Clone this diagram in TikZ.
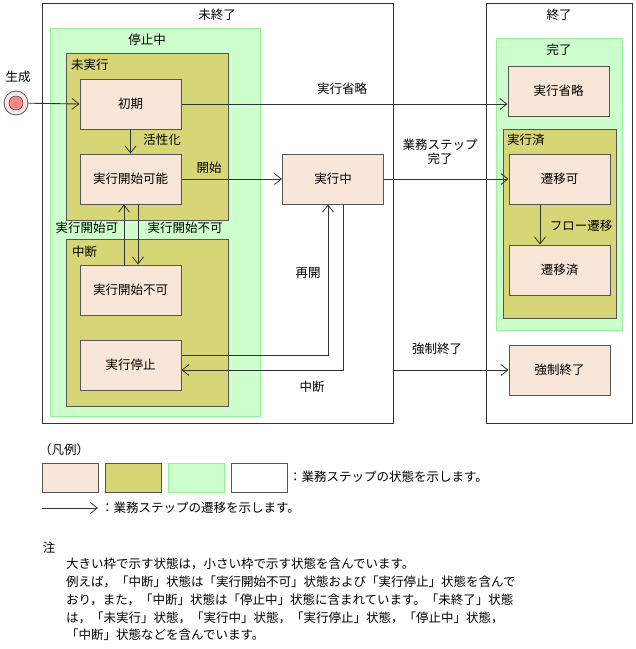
\documentclass[tikz,border=0pt]{standalone}
\usepackage{fontspec}
\setmainfont{Noto Sans CJK JP}
\usetikzlibrary{arrows.meta}
\definecolor{beige}{HTML}{F8E6D8}
\definecolor{olv}{HTML}{D6D676}
\definecolor{grn}{HTML}{CCFFCC}
\definecolor{grnb}{HTML}{99EE99}
\definecolor{bd}{HTML}{555555}
\tikzset{
  st/.style={draw=bd,fill=beige,line width=1pt,minimum width=101pt,minimum height=50pt,inner sep=0pt,font=\fontsize{12.5}{14}\selectfont},
  ob/.style={draw=bd,fill=olv,line width=1pt,anchor=north west,inner sep=0pt},
  gb/.style={draw=grnb,fill=grn,line width=1pt,anchor=north west,inner sep=0pt},
  wb/.style={draw=black!80,fill=white,line width=0.8pt,anchor=north west,inner sep=0pt},
  lbl/.style={inner sep=0pt,font=\fontsize{12.5}{14}\selectfont},
  tr/.style={draw=black!80,line width=0.9pt,-{Straight Barb[length=7pt,width=11pt,line width=0.8pt]}}
}
\begin{document}
\begin{tikzpicture}[x=1pt,y=-1pt]
\useasboundingbox (0,0) rectangle (636,649);
% containers
\node[wb,minimum width=351pt,minimum height=420pt] (mi) at (42,3) {};
\node[wb,minimum width=146pt,minimum height=420pt] (shu) at (486,3) {};
\node[lbl] (mit) at (217,15) {未終了};
\node[lbl] (shut) at (559,15) {終了};
\node[gb,minimum width=210pt,minimum height=388pt] (tei) at (50,28) {};
\node[lbl] (teit) at (147,40) {停止中};
\node[ob,minimum width=162pt,minimum height=167pt] (mij) at (66,53) {};
\node[lbl,anchor=west] (mijt) at (71,65) {未実行};
\node[ob,minimum width=162pt,minimum height=167pt] (chu) at (66,239) {};
\node[lbl,anchor=west] (chut) at (72,252) {中断};
\node[gb,minimum width=126pt,minimum height=292pt] (kan) at (496,38) {};
\node[lbl] (kant) at (559,50) {完了};
\node[ob,minimum width=113pt,minimum height=189pt] (jz) at (503,129) {};
\node[lbl,anchor=west] (jzt) at (507,140) {実行済};
% states
\node[st] (shoki) at (130.5,104) {初期};
\node[st] (kano) at (130.5,179) {実行開始可能};
\node[st] (fuka) at (130.5,290) {実行開始不可};
\node[st] (teishi) at (130.5,365) {実行停止};
\node[st] (jikko) at (333,179) {実行中};
\node[st] (shoryaku) at (558.5,91) {実行省略};
\node[st] (senika) at (559.5,179) {遷移可};
\node[st] (senizumi) at (559.5,270) {遷移済};
\node[st] (kyosei) at (559.5,370) {強制終了};
% initial
\node[circle,draw=bd,fill=pink!40,minimum size=24pt,inner sep=0pt,line width=0.8pt] (init) at (16,103) {};
\node[circle,draw=bd,fill=red!30!pink,minimum size=14pt,inner sep=0pt,line width=0.6pt] (initc) at (16,103) {};
\node[lbl] (seisei) at (18,77) {生成};
% transitions
\draw[tr] (init) -- (shoki.west);
\draw[tr] (shoki.east) -- (shoki.east -| shoryaku.west) coordinate (sx);
\node[lbl] (l1) at (342,89) {実行省略};
\draw[tr] (shoki.south) -- (kano.north);
\node[lbl] (l2) at (162,140) {活性化};
\draw[tr] (kano.east) -- (jikko.west);
\node[lbl] (l3) at (209,168) {開始};
\draw[tr] (fuka.north -| 124,0) -- (kano.south -| 124,0);
\draw[tr] (kano.south -| 138,0) -- (fuka.north -| 138,0);
\node[lbl] (l4) at (87,228) {実行開始可};
\node[lbl] (l5) at (185,228) {実行開始不可};
\draw[tr] (teishi.east |- 0,355) -| (jikko.south -| 328,0);
\node[lbl] (l6) at (308,273) {再開};
\draw[tr] (jikko.south -| 343,0) |- (teishi.east |- 0,370);
\node[lbl] (l7) at (312,387) {中断};
\draw[tr] (jikko.east) -- (senika.west);
\node[lbl,align=center] (l8) at (440,152) {業務ステップ\\完了};
\draw[tr] (senika.south -| 540,0) -- (senizumi.north -| 540,0);
\node[lbl] (l9) at (581,226) {フロー遷移};
\coordinate (mr) at (393,370);
\draw[tr] (mr) -- (kyosei.west);
\node[lbl] (l10) at (437,349) {強制終了};
% legend
\node[lbl] (hanrei) at (64,450) {（凡例）};
\node[draw=bd,fill=beige,line width=0.8pt,anchor=north west,minimum width=56pt,minimum height=29pt] (k1) at (42,463) {};
\node[draw=bd,fill=olv,line width=0.8pt,anchor=north west,minimum width=56pt,minimum height=29pt] (k2) at (105,463) {};
\node[draw=grnb,fill=grn,line width=0.8pt,anchor=north west,minimum width=56pt,minimum height=29pt] (k3) at (168,463) {};
\node[draw=bd,fill=white,line width=0.8pt,anchor=north west,minimum width=56pt,minimum height=29pt] (k4) at (231,463) {};
\node[lbl,anchor=west] (k5) at (289,477) {：業務ステップの状態を示します。};
\coordinate (a1) at (42,508);
\coordinate (a2) at (98,508);
\draw[tr] (a1) -- (a2);
\node[lbl,anchor=west] (k6) at (101,508) {：業務ステップの遷移を示します。};
\node[lbl] (chu2) at (49,548) {注};
\node[lbl,anchor=north west,align=left,font=\fontsize{12.5}{17.8}\selectfont] (note) at (66,558) {大きい枠で示す状態は，小さい枠で示す状態を含んでいます。\\例えば，「中断」状態は「実行開始不可」状態および「実行停止」状態を含んで\\おり，また，「中断」状態は「停止中」状態に含まれています。「未終了」状態\\は，「未実行」状態，「実行中」状態，「実行停止」状態，「停止中」状態，\\「中断」状態などを含んでいます。};
\end{tikzpicture}
\end{document}
